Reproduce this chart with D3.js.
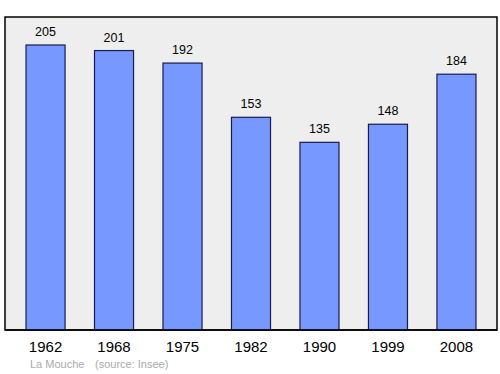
<!DOCTYPE html>
<meta charset="utf-8">
<script src="https://d3js.org/d3.v7.min.js"></script>
<style>
    body { margin: 0; background: #fff; }
    text { font-family: "Liberation Sans", Arial, sans-serif; }
</style>
<div id="base"></div>
<script>
    // population by census year
    var years = ["1962", "1968", "1975", "1982", "1990", "1999", "2008"];
    var population = [205, 201, 192, 153, 135, 148, 184];

    var width = 500, height = 374;
    var plotLeft = 5, plotRight = 497, plotTop = 17, plotBottom = 330;

    var svg = d3.select("#base")
        .append("svg")
        .attr("width", width)
        .attr("height", height);

    svg.append("rect")
        .attr("x", plotLeft)
        .attr("y", plotTop)
        .attr("width", plotRight - plotLeft)
        .attr("height", plotBottom - plotTop)
        .style("fill", "#eeeeee")
        .style("stroke", "#000")
        .style("stroke-width", 1.5);

    var x = d3.scaleBand()
        .domain(years)
        .range([plotLeft, plotRight])
        .paddingInner(0.43)
        .paddingOuter(0.307);

    var y = d3.scaleLinear()
        .domain([0, 205])
        .range([plotBottom, 45]);

    var data = years.map(function (d, i) { return { year: d, value: population[i] }; });

    svg.append("g")
        .selectAll("rect")
        .data(data)
        .enter()
        .append("rect")
        .attr("x", function (d) { return x(d.year); })
        .attr("y", function (d) { return y(d.value); })
        .attr("width", x.bandwidth())
        .attr("height", function (d) { return plotBottom - y(d.value); })
        .style("fill", "#7799ff")
        .style("stroke", "#1a1a4d")
        .style("stroke-width", 1.2);

    svg.append("g")
        .selectAll("text")
        .data(data)
        .enter()
        .append("text")
        .attr("x", function (d) { return x(d.year) + x.bandwidth() / 2; })
        .attr("y", function (d) { return y(d.value) - 9; })
        .attr("text-anchor", "middle")
        .style("font-size", "12.5px")
        .text(function (d) { return d.value; });

    // x axis labels
    var xAxis = d3.axisBottom(x).tickSize(0).tickPadding(11);
    var gx = svg.append("g")
        .attr("transform", "translate(0," + plotBottom + ")")
        .call(xAxis);
    gx.select(".domain").remove();
    gx.selectAll("text")
        .style("font-size", "15px")
        .style("font-family", "'Liberation Sans', Arial, sans-serif")
        .attr("fill", "#000");

    // redraw bottom border over the bars
    svg.append("line")
        .attr("x1", plotLeft).attr("x2", plotRight)
        .attr("y1", plotBottom).attr("y2", plotBottom)
        .style("stroke", "#000")
        .style("stroke-width", 1.5);

    svg.append("text")
        .attr("x", 30)
        .attr("y", 368)
        .style("font-size", "11px")
        .style("fill", "#aaaaaa")
        .text("La Mouche");

    svg.append("text")
        .attr("x", 95)
        .attr("y", 368)
        .style("font-size", "11px")
        .style("fill", "#aaaaaa")
        .text("(source: Insee)");
</script>
